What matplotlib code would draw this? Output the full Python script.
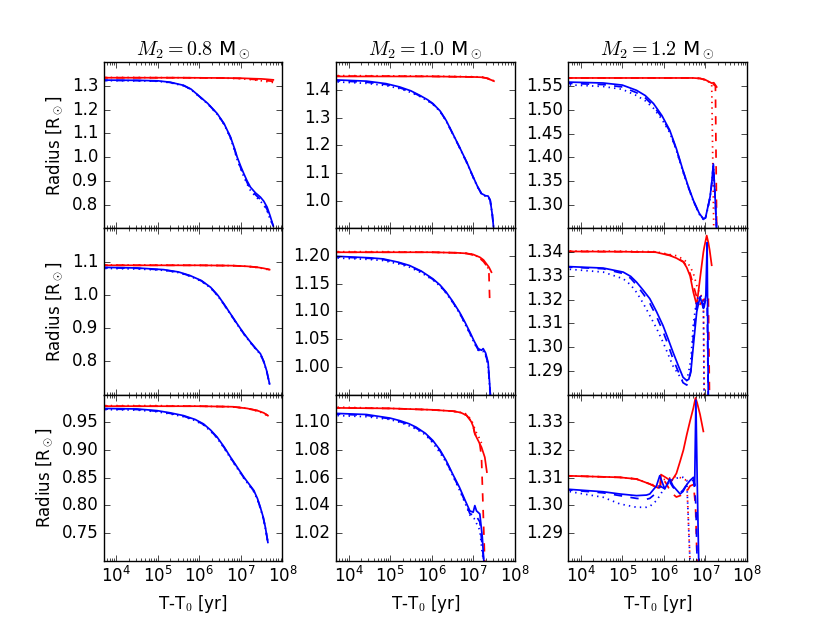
import numpy as np
import matplotlib as mpl
mpl.use('Agg')
import matplotlib.pyplot as plt

## Radius of the secondary vs time, three masses (columns) x three runs (rows)
## each run: red / blue, solid / dashed / dotted. log10(t) grids, nan = track ended

masses = ['0.8', '1.0', '1.2']

## --- row a ---
# M2 = 0.8
lt_a08_red = [3.6, 4.5, 5.5, 6.5, 7.0, 7.3, 7.5, 7.65, 7.78]
r_a08_red_solid = [1.335, 1.335, 1.335, 1.334, 1.333, 1.331, 1.330, 1.328, 1.326]
r_a08_red_dash = [1.335, 1.335, 1.335, 1.334, 1.332, 1.328, 1.325, 1.322, 1.320]
r_a08_red_dot = [1.336, 1.336, 1.335, 1.334, 1.331, 1.326, 1.322, 1.318, 1.315]
lt_a08_blue = [3.6, 4.5, 5.0, 5.3, 5.62, 5.8, 6.02, 6.2, 6.43, 6.6, 6.75, 6.85, 6.91, 7.0, 7.07, 7.15, 7.23, 7.35, 7.47, 7.55, 7.63, 7.7, 7.78]
r_a08_blue_solid = [1.325, 1.324, 1.322, 1.316, 1.303, 1.287, 1.254, 1.227, 1.184, 1.140, 1.085, 1.035, 1.001, 0.960, 0.931, 0.900, 0.874, 0.850, 0.832, 0.815, 0.790, 0.755, 0.710]
r_a08_blue_dash = [1.324, 1.323, 1.321, 1.315, 1.302, 1.286, 1.253, 1.226, 1.183, 1.139, 1.083, 1.031, 0.995, 0.953, 0.925, 0.893, 0.866, 0.842, 0.822, 0.805, 0.780, 0.745, 0.710]
r_a08_blue_dot = [1.323, 1.322, 1.320, 1.314, 1.301, 1.285, 1.252, 1.225, 1.181, 1.137, 1.080, 1.027, 0.990, 0.948, 0.918, 0.887, 0.860, 0.835, 0.815, 0.798, 0.775, 0.740, 0.710]
# M2 = 1.0
lt_a10_red = [3.6, 5.0, 6.0, 7.0, 7.2, 7.32, 7.42, 7.5]
r_a10_red_solid = [1.449, 1.449, 1.449, 1.447, 1.446, 1.443, 1.437, 1.432]
r_a10_red_dash = [1.450, 1.450, 1.449, 1.447, 1.446, 1.443, 1.437, 1.432]
r_a10_red_dot = [1.452, 1.451, 1.450, 1.448, 1.447, 1.444, 1.438, 1.433]
lt_a10_blue = [3.6, 4.43, 4.9, 5.23, 5.5, 5.71, 5.9, 6.03, 6.2, 6.35, 6.5, 6.67, 6.85, 7.0, 7.1, 7.2, 7.3, 7.36, 7.41, 7.46, 7.5]
r_a10_blue_solid = [1.437, 1.432, 1.423, 1.411, 1.397, 1.381, 1.365, 1.351, 1.325, 1.290, 1.245, 1.194, 1.138, 1.086, 1.053, 1.026, 1.018, 1.017, 1.002, 0.950, 0.890]
r_a10_blue_dash = [1.434, 1.428, 1.420, 1.408, 1.394, 1.379, 1.363, 1.350, 1.324, 1.289, 1.244, 1.193, 1.137, 1.085, 1.052, 1.025, 1.017, 1.016, 1.001, 0.950, 0.890]
r_a10_blue_dot = [1.430, 1.424, 1.416, 1.405, 1.391, 1.377, 1.361, 1.348, 1.323, 1.288, 1.243, 1.192, 1.136, 1.084, 1.051, 1.024, 1.016, 1.015, 1.000, 0.950, 0.890]
# M2 = 1.2
lt_a12_red = [3.6, 5.0, 6.0, 6.7, 6.87, 7.0, 7.11, 7.15, 7.2, 7.24, 7.27]
r_a12_red_solid = [1.567, 1.567, 1.567, 1.567, 1.566, 1.563, 1.558, 1.556, 1.557, 1.552, 1.548]
r_a12_red_dash = [1.567, 1.567, 1.567, 1.567, 1.566, 1.563, 1.557, 1.555, 1.553, 1.550, 1.250]
r_a12_red_dot = [1.567, 1.567, 1.567, 1.567, 1.566, 1.563, 1.557, 1.554, 1.248, np.nan, np.nan]
lt_a12_blue = [3.6, 4.54, 5.0, 5.34, 5.55, 5.75, 5.95, 6.14, 6.3, 6.46, 6.6, 6.71, 6.85, 6.95, 7.0, 7.05, 7.11, 7.15, 7.19, 7.23, 7.27]
r_a12_blue_solid = [1.5585, 1.5564, 1.552, 1.541, 1.530, 1.513, 1.488, 1.457, 1.418, 1.372, 1.335, 1.309, 1.282, 1.270, 1.272, 1.292, 1.316, 1.345, 1.386, 1.320, 1.245]
r_a12_blue_dash = [1.556, 1.553, 1.548, 1.536, 1.525, 1.508, 1.484, 1.455, 1.416, 1.371, 1.334, 1.308, 1.281, 1.270, 1.272, 1.291, 1.315, 1.344, 1.384, 1.320, 1.245]
r_a12_blue_dot = [1.553, 1.549, 1.543, 1.530, 1.519, 1.503, 1.480, 1.452, 1.414, 1.369, 1.333, 1.307, 1.280, 1.269, 1.271, 1.290, 1.315, 1.343, 1.383, 1.320, 1.245]

## --- row b ---
lt_b08_red = [3.6, 5.0, 6.0, 6.8, 7.15, 7.4, 7.55, 7.69]
r_b08_red_solid = [1.089, 1.089, 1.089, 1.088, 1.086, 1.083, 1.080, 1.076]
r_b08_red_dash = [1.089, 1.089, 1.089, 1.088, 1.086, 1.083, 1.080, 1.076]
r_b08_red_dot = [1.090, 1.090, 1.089, 1.088, 1.086, 1.082, 1.079, 1.075]
lt_b08_blue = [3.6, 4.5, 5.14, 5.5, 5.78, 6.05, 6.27, 6.45, 6.59, 6.75, 6.91, 7.07, 7.23, 7.35, 7.47, 7.55, 7.62, 7.69]
r_b08_blue_solid = [1.083, 1.081, 1.076, 1.069, 1.058, 1.043, 1.023, 0.998, 0.973, 0.943, 0.913, 0.884, 0.858, 0.840, 0.823, 0.800, 0.772, 0.732]
r_b08_blue_dash = [1.082, 1.080, 1.075, 1.068, 1.057, 1.042, 1.022, 0.997, 0.972, 0.942, 0.912, 0.883, 0.857, 0.839, 0.822, 0.799, 0.771, 0.732]
r_b08_blue_dot = [1.080, 1.078, 1.074, 1.067, 1.056, 1.041, 1.021, 0.996, 0.971, 0.941, 0.911, 0.882, 0.856, 0.838, 0.821, 0.798, 0.770, 0.732]
lt_b10_red = [3.6, 5.0, 6.0, 6.6, 6.83, 7.0, 7.16, 7.25, 7.32, 7.38, 7.40, 7.44]
r_b10_red_solid = [1.207, 1.207, 1.207, 1.206, 1.205, 1.203, 1.198, 1.193, 1.186, 1.180, 1.177, 1.171]
r_b10_red_dash = [1.207, 1.207, 1.207, 1.206, 1.205, 1.202, 1.196, 1.190, 1.183, 1.168, 1.115, np.nan]
r_b10_red_dot = [1.208, 1.208, 1.207, 1.206, 1.205, 1.203, 1.197, 1.191, 1.184, 1.175, np.nan, np.nan]
lt_b10_blue = [3.6, 4.5, 4.83, 5.2, 5.47, 5.75, 6.03, 6.2, 6.35, 6.5, 6.67, 6.8, 6.92, 7.02, 7.12, 7.2, 7.24, 7.3, 7.36, 7.40, 7.43]
r_b10_blue_solid = [1.200, 1.197, 1.195, 1.189, 1.183, 1.173, 1.159, 1.148, 1.135, 1.119, 1.099, 1.081, 1.063, 1.047, 1.033, 1.030, 1.033, 1.025, 1.008, 0.966, 0.930]
r_b10_blue_dash = [1.199, 1.196, 1.194, 1.188, 1.182, 1.172, 1.158, 1.147, 1.134, 1.118, 1.098, 1.079, 1.061, 1.045, 1.031, 1.028, 1.030, 1.022, 1.005, 0.963, 0.930]
r_b10_blue_dot = [1.197, 1.194, 1.192, 1.186, 1.180, 1.170, 1.157, 1.146, 1.133, 1.117, 1.097, 1.078, 1.060, 1.044, 1.030, 1.027, 1.028, 1.020, 1.003, 0.960, 0.930]
lt_b12_red = [3.6, 5.0, 5.8, 6.14, 6.30, 6.47, 6.55, 6.63, 6.71, 6.79, 6.87, 6.95, 6.97, 7.03, 7.07, 7.1, 7.15]
r_b12_red_solid = [1.3403, 1.3402, 1.340, 1.3386, 1.3375, 1.3358, 1.3335, 1.330, 1.323, 1.3177, 1.329, 1.340, 1.342, 1.347, 1.344, 1.341, 1.3345]
r_b12_red_dash = [1.3403, 1.3402, 1.340, 1.3388, 1.3377, 1.336, 1.334, 1.331, 1.326, 1.321, 1.318, 1.320, 1.320, 1.322, 1.321, 1.275, np.nan]
r_b12_red_dot = [1.3405, 1.3404, 1.3402, 1.339, 1.3385, 1.337, 1.3358, 1.334, 1.331, 1.326, 1.322, 1.321, 1.275, np.nan, np.nan, np.nan, np.nan]
lt_b12_blue = [3.6, 4.54, 5.02, 5.2, 5.34, 5.5, 5.66, 5.82, 5.98, 6.1, 6.22, 6.35, 6.46, 6.55, 6.6, 6.65, 6.71, 6.79, 6.87, 6.95, 6.97, 7.01, 7.04, 7.07]
r_b12_blue_solid = [1.334, 1.3333, 1.3316, 1.3298, 1.3274, 1.324, 1.3204, 1.315, 1.309, 1.3035, 1.2978, 1.292, 1.2873, 1.2859, 1.2865, 1.290, 1.3008, 1.3149, 1.3212, 1.3163, 1.317, 1.3219, 1.344, 1.275]
r_b12_blue_dash = [1.3338, 1.333, 1.331, 1.329, 1.3262, 1.3225, 1.3185, 1.313, 1.3065, 1.301, 1.295, 1.2895, 1.285, 1.284, 1.2855, 1.290, 1.305, 1.318, 1.3205, 1.318, 1.318, 1.320, 1.318, 1.275]
r_b12_blue_dot = [1.333, 1.3316, 1.3288, 1.3262, 1.3231, 1.3185, 1.3133, 1.308, 1.302, 1.297, 1.292, 1.2885, 1.2855, 1.286, 1.290, 1.295, 1.310, 1.320, 1.322, 1.320, 1.275, np.nan, np.nan, np.nan]

## --- row c ---
lt_c08_red = [3.6, 5.0, 6.0, 6.8, 7.15, 7.4, 7.55, 7.65]
r_c08_red_solid = [0.979, 0.979, 0.979, 0.978, 0.975, 0.971, 0.967, 0.962]
r_c08_red_dash = [0.979, 0.979, 0.979, 0.978, 0.975, 0.971, 0.967, 0.962]
r_c08_red_dot = [0.980, 0.980, 0.979, 0.978, 0.975, 0.970, 0.966, 0.961]
lt_c08_blue = [3.6, 4.5, 4.98, 5.3, 5.62, 5.9, 6.1, 6.27, 6.43, 6.6, 6.75, 6.91, 7.07, 7.2, 7.31, 7.4, 7.47, 7.54, 7.59, 7.65]
r_c08_blue_solid = [0.975, 0.974, 0.971, 0.967, 0.962, 0.955, 0.947, 0.936, 0.923, 0.905, 0.887, 0.869, 0.851, 0.838, 0.827, 0.812, 0.796, 0.778, 0.760, 0.733]
r_c08_blue_dash = [0.974, 0.973, 0.970, 0.966, 0.961, 0.954, 0.946, 0.935, 0.922, 0.904, 0.886, 0.868, 0.850, 0.837, 0.826, 0.811, 0.795, 0.777, 0.759, 0.733]
r_c08_blue_dot = [0.973, 0.972, 0.969, 0.965, 0.960, 0.953, 0.945, 0.934, 0.921, 0.903, 0.885, 0.867, 0.849, 0.836, 0.825, 0.810, 0.794, 0.776, 0.758, 0.733]
lt_c10_red = [3.6, 5.0, 6.0, 6.52, 6.7, 6.84, 6.92, 6.96, 7.0, 7.04, 7.1, 7.16, 7.2, 7.28, 7.33]
r_c10_red_solid = [1.1104, 1.110, 1.109, 1.108, 1.107, 1.105, 1.102, 1.100, 1.097, 1.0916, 1.088, 1.0844, 1.082, 1.0747, 1.064]
r_c10_red_dash = [1.1104, 1.110, 1.109, 1.108, 1.107, 1.105, 1.102, 1.100, 1.097, 1.092, 1.088, 1.084, 1.075, 0.998, np.nan]
r_c10_red_dot = [1.111, 1.110, 1.109, 1.108, 1.107, 1.106, 1.103, 1.101, 1.099, 1.095, 1.091, 1.088, 1.085, np.nan, np.nan]
lt_c10_blue = [3.6, 4.43, 5.0, 5.23, 5.45, 5.63, 5.85, 6.03, 6.2, 6.35, 6.5, 6.67, 6.8, 6.92, 7.0, 7.04, 7.08, 7.16, 7.22, 7.26]
r_c10_blue_solid = [1.1065, 1.1056, 1.103, 1.1012, 1.099, 1.0964, 1.092, 1.0868, 1.080, 1.0723, 1.063, 1.053, 1.044, 1.036, 1.035, 1.0398, 1.036, 1.0338, 1.017, 0.998]
r_c10_blue_dash = [1.106, 1.105, 1.1025, 1.1005, 1.0984, 1.0958, 1.0914, 1.0862, 1.0795, 1.0718, 1.0625, 1.052, 1.043, 1.034, 1.033, 1.034, 1.032, 1.028, 1.010, 0.998]
r_c10_blue_dot = [1.105, 1.104, 1.102, 1.100, 1.0975, 1.095, 1.091, 1.085, 1.078, 1.071, 1.062, 1.051, 1.042, 1.033, 1.031, 1.030, 1.027, 1.022, 1.005, 0.998]
lt_c12_red = [3.6, 4.94, 5.34, 5.66, 5.86, 5.91, 5.93, 6.05, 6.18, 6.30, 6.39, 6.47, 6.55, 6.63, 6.71, 6.76, 6.80, 6.87, 6.95]
r_c12_red_solid = [1.3107, 1.3101, 1.3095, 1.3077, 1.3063, 1.3065, 1.3111, 1.310, 1.3087, 1.3115, 1.3159, 1.320, 1.3255, 1.3305, 1.3352, 1.3388, 1.337, 1.3328, 1.3267]
r_c12_red_dash = [1.3107, 1.3101, 1.3095, 1.3077, 1.3063, 1.306, 1.3105, 1.308, 1.3045, 1.303, 1.3035, 1.304, 1.305, 1.307, 1.3075, 1.300, 1.279, np.nan, np.nan]
r_c12_red_dot = [1.3107, 1.3101, 1.3095, 1.3077, 1.307, 1.307, 1.309, 1.3095, 1.310, 1.3105, 1.310, 1.3095, 1.309, 1.279, np.nan, np.nan, np.nan, np.nan, np.nan]
lt_c12_blue = [3.6, 4.54, 4.94, 5.34, 5.58, 5.66, 5.82, 5.90, 6.02, 6.14, 6.22, 6.39, 6.46, 6.55, 6.63, 6.71, 6.74, 6.77, 6.80, 6.84]
r_c12_blue_solid = [1.3059, 1.3049, 1.3041, 1.3035, 1.3037, 1.3041, 1.307, 1.3107, 1.3059, 1.3095, 1.307, 1.3041, 1.305, 1.3075, 1.309, 1.3101, 1.307, 1.338, 1.31, 1.278]
r_c12_blue_dash = [1.3057, 1.3045, 1.3035, 1.3025, 1.3022, 1.3025, 1.3045, 1.307, 1.306, 1.3085, 1.3065, 1.3045, 1.3055, 1.3075, 1.309, 1.309, 1.306, 1.300, 1.279, np.nan]
r_c12_blue_dot = [1.3053, 1.3029, 1.3005, 1.2993, 1.2993, 1.2996, 1.3017, 1.3035, 1.3065, 1.3085, 1.3095, 1.3101, 1.3101, 1.309, 1.279, np.nan, np.nan, np.nan, np.nan, np.nan]

## axis ranges + ticks
ylims = {('a', '08'): (0.70, 1.40), ('a', '10'): (0.90, 1.50), ('a', '12'): (1.25, 1.60),
         ('b', '08'): (0.70, 1.20), ('b', '10'): (0.95, 1.25), ('b', '12'): (1.28, 1.35),
         ('c', '08'): (0.70, 1.00), ('c', '10'): (1.00, 1.12), ('c', '12'): (1.28, 1.34)}
ysteps = {('a', '08'): 0.1, ('a', '10'): 0.1, ('a', '12'): 0.05,
          ('b', '08'): 0.1, ('b', '10'): 0.05, ('b', '12'): 0.01,
          ('c', '08'): 0.05, ('c', '10'): 0.02, ('c', '12'): 0.01}

plt.style.use('classic')
plt.rcParams['figure.facecolor'] = 'white'
plt.rcParams['savefig.facecolor'] = 'white'
plt.rcParams['axes.formatter.useoffset'] = False

fig, axes = plt.subplots(3, 3, sharex=True, figsize=(8.3, 6.23), dpi=100)
fig.subplots_adjust(left=0.125, right=0.9, bottom=0.1, top=0.9, wspace=0.3, hspace=0)

g = globals()
lw = 1.25
for i, row in enumerate(['a', 'b', 'c']):
    for j, m in enumerate(['08', '10', '12']):
        ax = axes[i, j]
        for col, c in [('red', 'r'), ('blue', 'b')]:
            t = 10 ** np.array(g['lt_%s%s_%s' % (row, m, col)])
            for sty, ls in [('dot', ':'), ('dash', '--'), ('solid', '-')]:
                r = np.array(g['r_%s%s_%s_%s' % (row, m, col, sty)], dtype=float)
                ax.plot(t, r, color=c, ls=ls, lw=lw)
        ax.set_xscale('log')
        ax.set_xlim(5e3, 1e8)
        lo, hi = ylims[(row, m)]
        st = ysteps[(row, m)]
        ax.set_ylim(lo, hi)
        ax.set_yticks(np.round(np.arange(lo + st, hi - st / 2, st), 3)) # drop top/bottom labels
        if j == 0:
            ax.set_ylabel(r'Radius [R$_\odot$]')
        if i == 0:
            ax.set_title(r'$M_2=%s$ M$_\odot$' % masses[j])
        if i == 2:
            ax.set_xlabel(r'T-T$_0$ [yr]')
            ax.set_xticks([1e4, 1e5, 1e6, 1e7, 1e8])

plt.savefig('out.png', dpi=100)
